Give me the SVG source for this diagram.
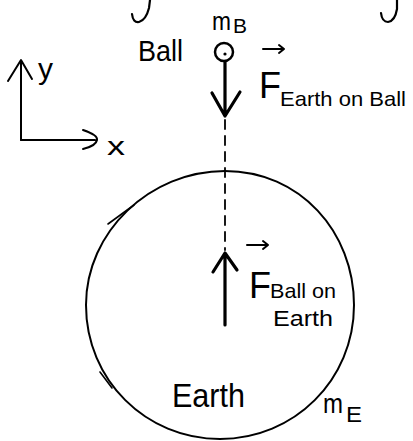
<svg xmlns="http://www.w3.org/2000/svg" width="413" height="441" viewBox="0 0 413 441">
<style>
.ink{fill:none;stroke:#000;stroke-linecap:round;stroke-linejoin:round}
.t{font-family:"Liberation Sans","DejaVu Sans",sans-serif;fill:#000}
</style>
<rect width="413" height="441" fill="#fff"/>
<g id="top-fragments">
<path class="ink" stroke-width="2.2" d="M150 0 L149 8 Q146 20 139 22 Q133 23 132 14"/>
<path class="ink" stroke-width="2.2" d="M397 0 L397 9 Q395 21 388 22 Q382 22 381 13"/>
</g>
<g id="axes">
<path class="ink" stroke-width="2" d="M21 140 L21 61 M8 81 L21 60 L32 79"/>
<path class="ink" stroke-width="2" d="M21 140 L95 140 M83 130 Q98 135 97 140 Q96 146 83 149"/>
<text class="t" x="38" y="79" font-size="30">y</text>
<text class="t" x="107" y="155" font-size="26" textLength="18" lengthAdjust="spacingAndGlyphs">x</text>
</g>
<g id="ball">
<circle class="ink" stroke-width="2.5" cx="224" cy="52" r="9"/>
<circle cx="225" cy="54" r="1.6" fill="#000"/>
<text class="t" x="138" y="61" font-size="29" textLength="45" lengthAdjust="spacingAndGlyphs">Ball</text>
<text class="t" x="212" y="30" font-size="26" textLength="19" lengthAdjust="spacingAndGlyphs">m</text>
<text class="t" x="233" y="33" font-size="21" textLength="14" lengthAdjust="spacingAndGlyphs">B</text>
</g>
<g id="earth">
<path class="ink" stroke-width="2" d="M225 171 C300 171 354 232 354 305 C354 380 294 439 220 439 C146 439 86 380 86 305 C86 232 150 171 225 171 Z"/>
<path class="ink" stroke-width="1.6" d="M108 224 L134 205"/>
<path class="ink" stroke-width="1.6" d="M100 372 L112 388"/>
<text class="t" x="172" y="407" font-size="33" textLength="73" lengthAdjust="spacingAndGlyphs">Earth</text>
<text class="t" x="323" y="413" font-size="28" textLength="20" lengthAdjust="spacingAndGlyphs">m</text>
<text class="t" x="346" y="422" font-size="22" textLength="16" lengthAdjust="spacingAndGlyphs">E</text>
</g>
<g id="connectors">
<line class="ink" stroke-width="1.8" x1="225" y1="120" x2="225" y2="250" stroke-dasharray="9 7"/>
<g id="force-earth-on-ball">
<path class="ink" stroke-width="3.2" d="M225 62 L225 116 M212 93 L225 116 L240 92"/>
</g>
<g id="force-ball-on-earth">
<path class="ink" stroke-width="3.2" d="M225 325 L225 254 M213 272 L225 253 L237 270"/>
</g>
</g>
<g id="label-f-earth-on-ball">
<path class="ink" stroke-width="2" d="M263 49 L284 49 M279 45 L284 49 L279 53"/>
<text class="t" x="259" y="98" font-size="36">F</text>
<text class="t" x="280" y="106" font-size="21" textLength="126" lengthAdjust="spacingAndGlyphs">Earth on Ball</text>
</g>
<g id="label-f-ball-on-earth">
<path class="ink" stroke-width="2" d="M247 245 L268 245 M263 241 L268 245 L263 249"/>
<text class="t" x="249" y="298" font-size="36">F</text>
<text class="t" x="270" y="298" font-size="21" textLength="66" lengthAdjust="spacingAndGlyphs">Ball on</text>
<text class="t" x="273" y="326" font-size="22" textLength="60" lengthAdjust="spacingAndGlyphs">Earth</text>
</g>
</svg>
